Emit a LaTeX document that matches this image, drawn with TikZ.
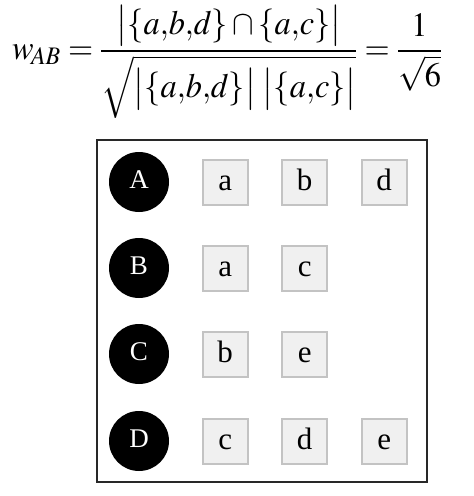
\documentclass[tikz,border=0pt]{standalone}
\usepackage{amsmath}
\usepackage{graphicx}
\usepackage{mathptmx}
\usepackage[no-math]{fontspec}
\setmainfont{Liberation Serif}
\usetikzlibrary{positioning}
\definecolor{itemFill}{RGB}{240,240,240}
\definecolor{itemDraw}{RGB}{195,195,195}
\definecolor{frameDraw}{RGB}{40,40,40}

\begin{document}
\begin{tikzpicture}[x=1pt, y=-1pt, node distance=32.5pt,
    vertex/.style={circle, fill=black, text=white, minimum size=60pt, inner sep=0pt,
      text height=13pt, text depth=0pt, font=\fontsize{27}{27}\selectfont},
    item/.style={rectangle, draw=itemDraw, fill=itemFill, line width=2pt, minimum size=45pt,
      inner sep=0pt, text height=17pt, text depth=0pt, font=\fontsize{31}{31}\selectfont},
    board/.style={rectangle, draw=frameDraw, line width=2pt, minimum width=330pt,
      minimum height=342pt, inner sep=0pt}]
  \fill[white] (0,0) rectangle (474,496);
  \useasboundingbox (0,0) rectangle (474,496);
  % weight of the pair A,B
  \node[anchor=north west, inner sep=0pt, font=\fontsize{36}{40}\selectfont] (weight) at (12,5)
    {\resizebox*{430pt}{113pt}{$w_{\!AB}=\dfrac{\bigl|\{a{,}b{,}d\}\cap\{a{,}c\}\bigr|}{\sqrt{\bigl|\{a{,}b{,}d\}\bigr|\;\bigl|\{a{,}c\}\bigr|}}=\dfrac{1}{\sqrt{6}}$}};
  \node[board] (frame) at (262,311) {};
  % one row per vertex, its items to the right
  \foreach \n/\y/\l in {A/182/{a,b,d},B/268/{a,c},C/354/{b,e},D/441/{c,d,e}}{
    \node[vertex] (\n-0) at (139,\y) {\n};
    \foreach \t [count=\i from 1, remember=\i as \j (initially 0)] in \l
      \node[item, right=of \n-\j] (\n-\i) {\t};
  }
\end{tikzpicture}
\end{document}
